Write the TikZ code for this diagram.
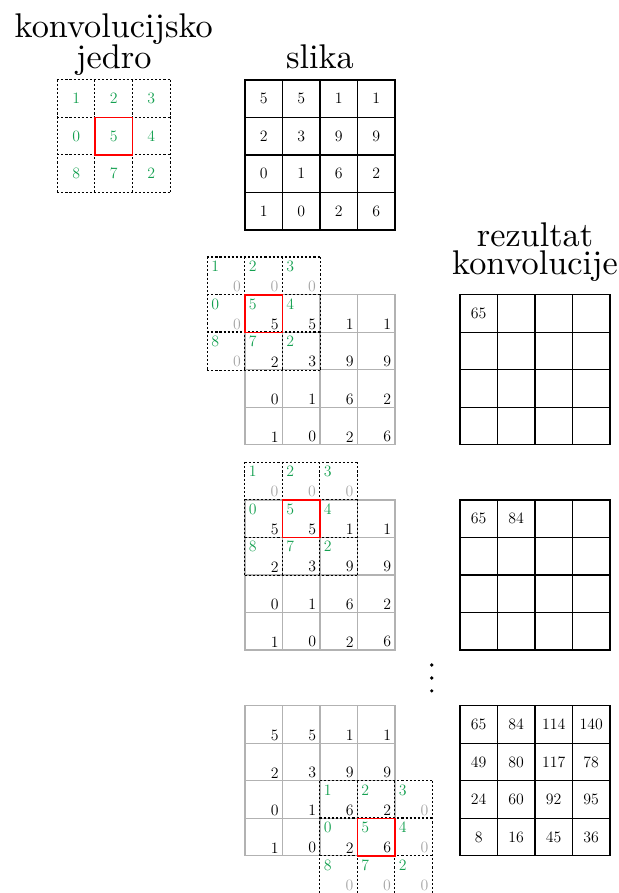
\documentclass[tikz,border=0pt]{standalone}
\usepackage{tikz}
\usetikzlibrary{positioning, calc}
\definecolor{kergreen}{RGB}{20, 160, 80}
\tikzset{
  digits/.style={font=\fontsize{12}{14}\selectfont},
  titletext/.style={anchor=base, scale=2.6, inner sep=0pt, font=\normalsize},
  imgcell/.style={draw, line width=0.8pt, minimum size=1cm, inner sep=0pt, digits},
  rescell/.style={imgcell},
  greycell/.style={draw=gray!60, line width=0.8pt, minimum size=1cm, inner sep=0pt},
  kercell/.style={minimum size=1cm, inner sep=0pt, digits},
  kerline/.style={line width=0.95pt, dash pattern=on 1.6pt off 1.5pt},
  redcell/.style={draw=red, line width=1.1pt, minimum size=1cm, inner sep=0pt},
  imgval/.style={anchor=south east, inner xsep=3.2pt, inner ysep=2.3pt, digits},
  padval/.style={imgval, text=gray!70},
  kerval/.style={anchor=north west, inner xsep=3pt, inner ysep=2.8pt, text=kergreen, digits},
  dotnode/.style={circle, fill, inner sep=0pt, minimum size=2.8pt},
}

\begin{document}
\begin{tikzpicture}
  \useasboundingbox (-6.533,2.133) rectangle (9.947,-21.68);
  % titles
  \node[titletext] (kt1) at (-3.5,1.13) {konvolucijsko};
  \node[titletext] (kt2) at (-3.5,0.312) {jedro};
  \node[titletext] (st) at (2,0.312) {slika};
  \node[titletext] (rt1) at (7.733,-4.44) {rezultat};
  \node[titletext] (rt2) at (7.733,-5.2) {konvolucije};

  % kernel and image
  \foreach \row [count=\r from 0] in {{1,2,3},{0,5,4},{8,7,2}}
    \foreach \v [count=\c from 0] in \row
      \node[kercell, text=kergreen] (k-\r-\c) at (-4.5+\c,-0.5-\r) {\v};
  \foreach \i in {0,1,2} {
    \draw[kerline] (k-0-\i.north west) -- (k-2-\i.south west);
    \draw[kerline] (k-\i-0.north west) -- (k-\i-2.north east);
  }
  \draw[kerline] (k-0-2.north east) -- (k-2-2.south east);
  \draw[kerline] (k-2-0.south west) -- (k-2-2.south east);
  \node[redcell] (kr) at (k-1-1) {};
  \foreach \row [count=\r from 0] in {{5,5,1,1},{2,3,9,9},{0,1,6,2},{1,0,2,6}}
    \foreach \v [count=\c from 0] in \row
      \node[imgcell] (s-\r-\c) at (0.5+\c,-0.5-\r) {\v};

  % steps
  \foreach \t/\s in {-5.73/a,-11.2/b,-16.69/c}
    \foreach \row [count=\r from 0] in {{5,5,1,1},{2,3,9,9},{0,1,6,2},{1,0,2,6}}
      \foreach \v [count=\c from 0] in \row {
        \node[greycell] (\s-\r-\c) at (0.5+\c,\t-0.5-\r) {};
        \node[imgval] (\s v-\r-\c) at (\s-\r-\c.south east) {\v};
      }
  \foreach \t/\s/\kr/\kc in {-5.73/a/-1/-1,-11.2/b/-1/0,-16.69/c/2/2} {
    \foreach \row [count=\r from 0] in {{1,2,3},{0,5,4},{8,7,2}}
      \foreach \v [count=\c from 0] in \row {
        \node[kercell] (\s k-\r-\c) at ({0.5+\kc+\c},{\t-0.5-(\kr)-\r}) {};
        \node[kerval] (\s kv-\r-\c) at (\s k-\r-\c.north west) {\v};
      }
    \foreach \i in {0,1,2} {
      \draw[kerline] (\s k-0-\i.north west) -- (\s k-2-\i.south west);
      \draw[kerline] (\s k-\i-0.north west) -- (\s k-\i-2.north east);
    }
    \draw[kerline] (\s k-0-2.north east) -- (\s k-2-2.south east);
    \draw[kerline] (\s k-2-0.south west) -- (\s k-2-2.south east);
    \node[redcell] (\s r) at (\s k-1-1) {};
  }
  \foreach \s/\i/\j in {a/0/0,a/0/1,a/0/2,a/1/0,a/2/0,b/0/0,b/0/1,b/0/2,c/0/2,c/1/2,c/2/0,c/2/1,c/2/2}
    \node[padval] (\s p-\i-\j) at (\s k-\i-\j.south east) {0};

  % results
  \foreach \t/\n in {-5.73/1,-11.2/2,-16.69/3}
    \foreach \r in {0,...,3}
      \foreach \c in {0,...,3}
        \node[rescell] (r\n-\r-\c) at (6.233+\c,\t-0.5-\r) {};
  \node[digits] (v1) at (r1-0-0) {65};
  \node[digits] (v2a) at (r2-0-0) {65};
  \node[digits] (v2b) at (r2-0-1) {84};
  \foreach \row [count=\r from 0] in {{65,84,114,140},{49,80,117,78},{24,60,92,95},{8,16,45,36}}
    \foreach \v [count=\c from 0] in \row
      \node[digits] (v3-\r-\c) at (r3-\r-\c) {\v};

  \foreach \y [count=\i] in {-15.6,-15.947,-16.29}
    \node[dotnode] (dot\i) at (4.98,\y) {};
\end{tikzpicture}
\end{document}
